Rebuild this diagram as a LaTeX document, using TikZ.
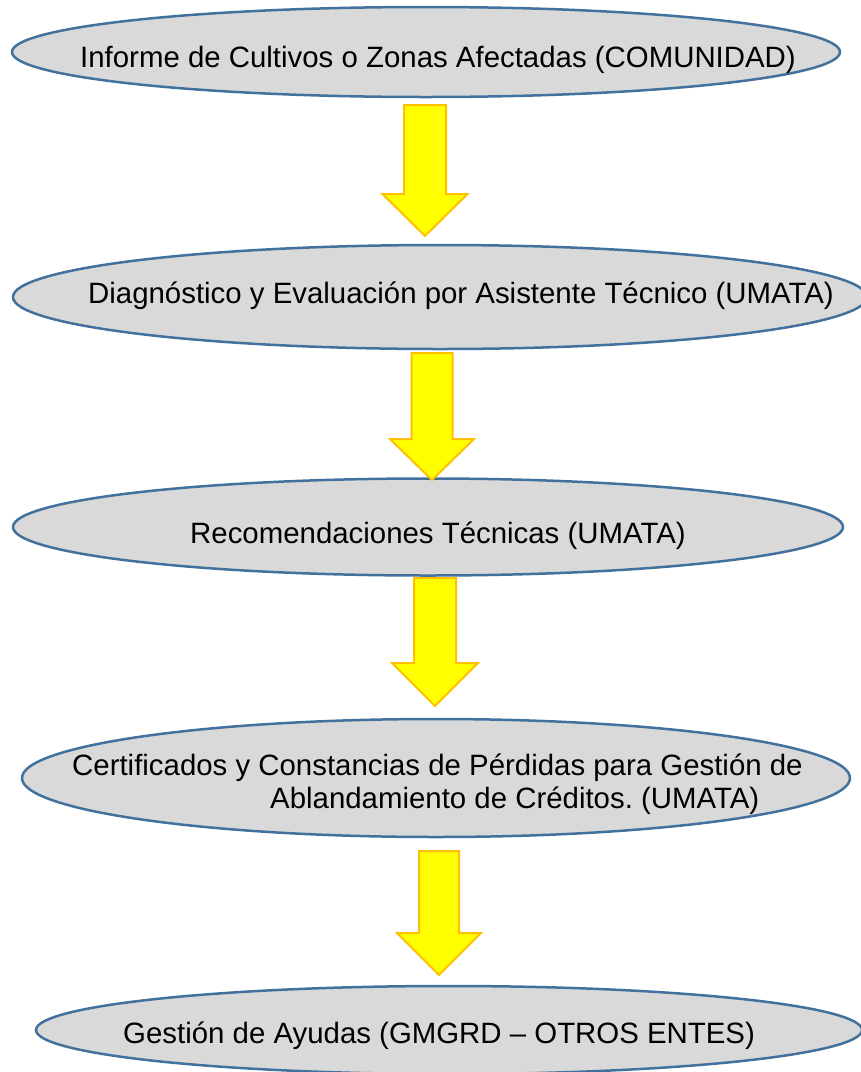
\documentclass[tikz,border=0pt]{standalone}
\usepackage{fontspec}
\setmainfont{Liberation Sans}
\usetikzlibrary{shapes.geometric,calc}
\definecolor{ellfill}{HTML}{D9D9D9}
\definecolor{elldraw}{HTML}{41719C}
\definecolor{arrfill}{HTML}{FFFF00}
\definecolor{arrdraw}{HTML}{FFC000}
\frenchspacing
\tikzset{
  ellbox/.style={ellipse, draw=elldraw, fill=ellfill, line width=2.5pt, inner sep=0pt},
  lbl/.style={anchor=base west, inner sep=0pt, font=\fontsize{29.4}{33}\selectfont},
  yarr/.style={draw=arrdraw, fill=arrfill, line width=2pt, line join=miter}
}
% #1 name prefix, #2 x center, #3 top y, #4 head y, #5 tip y, #6 shaft half, #7 head half
\newcommand{\yblockarrow}[7]{%
  \coordinate (#1s) at (#2,#3);
  \coordinate (#1t) at (#2,#5);
  \draw[yarr] ($(#1s)+(-#6,0)$) -- ($(#1s)+(#6,0)$) -- (#2+#6,#4) -- (#2+#7,#4)
     -- (#1t) -- (#2-#7,#4) -- (#2-#6,#4) -- cycle;
}
\begin{document}
\begin{tikzpicture}[x=1pt,y=-1pt]
\useasboundingbox (0,0) rectangle (861,1072);
\node[ellbox, minimum width=828, minimum height=90] (e1) at (426,52) {};
\node[ellbox, minimum width=854, minimum height=104] (e2) at (440,297) {};
\node[ellbox, minimum width=830, minimum height=97] (e3) at (428,527) {};
\node[ellbox, minimum width=828, minimum height=118] (e4) at (436,778) {};
\node[ellbox, minimum width=826, minimum height=88] (e5) at (449,1030) {};

\node[lbl] (t1) at (80,67) {Informe de Cultivos o Zonas Afectadas (COMUNIDAD)};
\node[lbl] (t2) at (88,303) {Diagnóstico y Evaluación por Asistente Técnico (UMATA)};
\node[lbl] (t3) at (190,543) {Recomendaciones Técnicas (UMATA)};
\node[lbl] (t4a) at (72,775) {Certificados y Constancias de Pérdidas para Gestión de};
\node[lbl] (t4b) at (270,808) {Ablandamiento de Créditos. (UMATA)};
\node[lbl] (t5) at (123,1043) {Gestión de Ayudas (GMGRD – OTROS ENTES)};

\yblockarrow{a1}{425}{105}{194}{236}{21}{42.5}
\yblockarrow{a2}{432}{353}{439}{480}{20.5}{42}
\yblockarrow{a3}{435}{578}{663}{706}{21}{43}
\yblockarrow{a4}{439}{851}{933}{975}{20}{42}
\end{tikzpicture}
\end{document}
